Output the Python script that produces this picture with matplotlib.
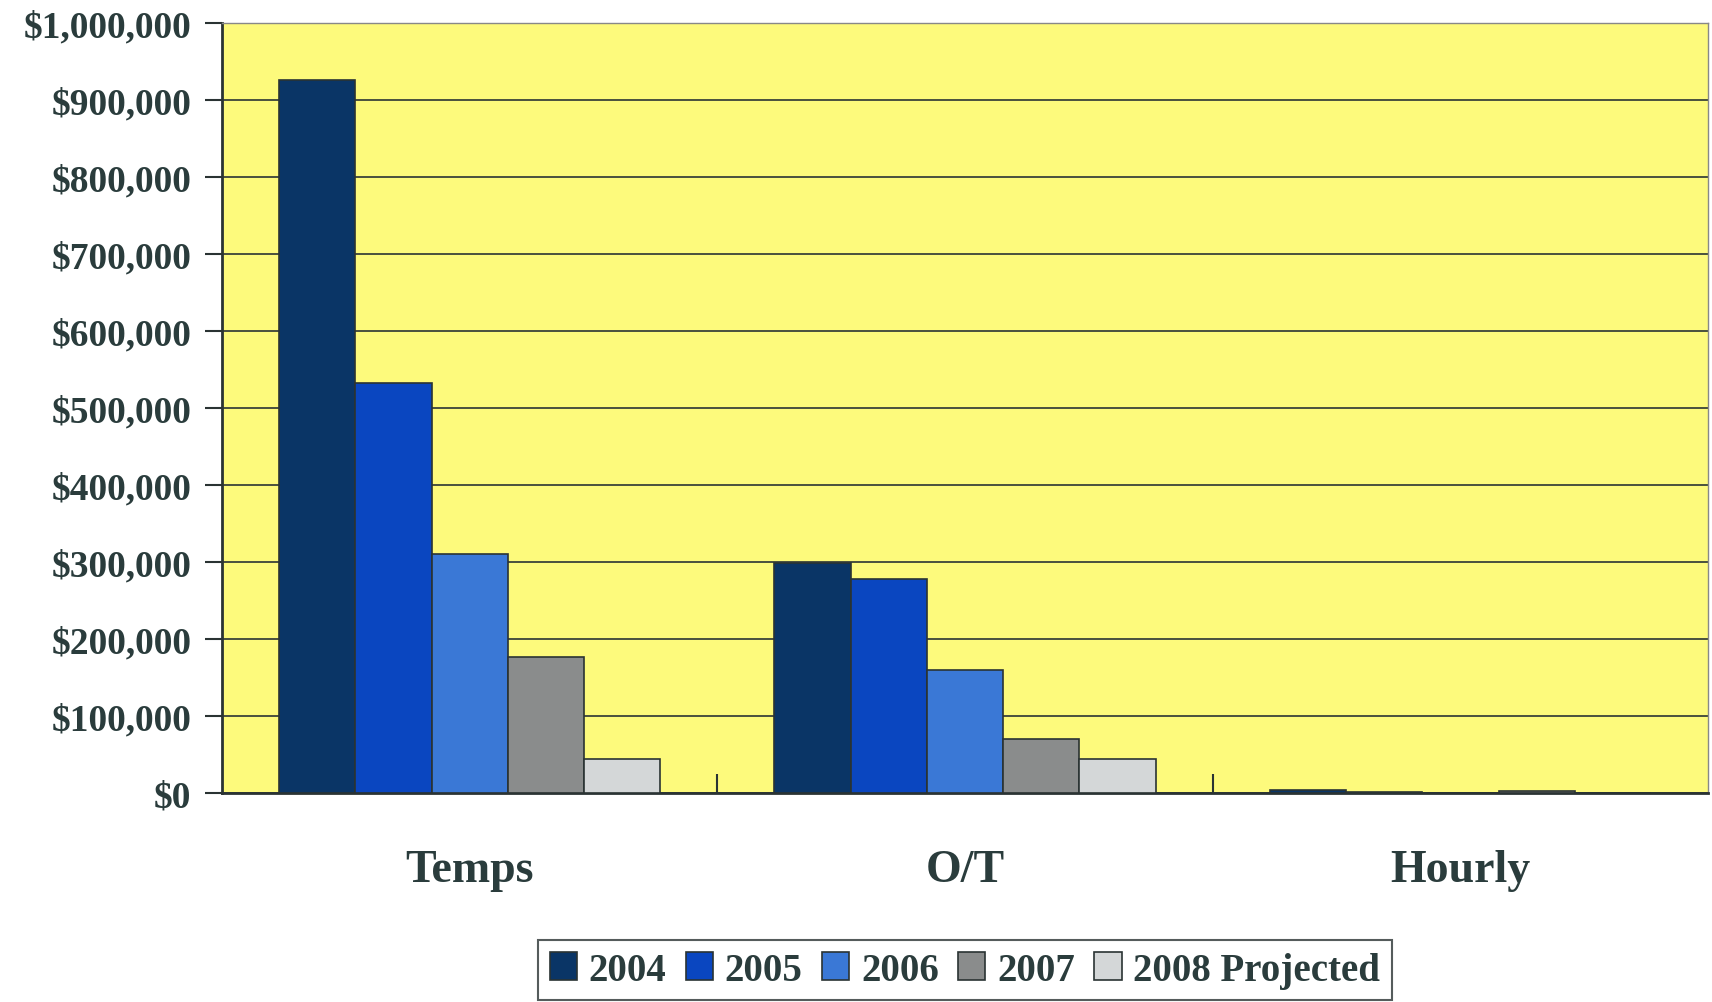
import matplotlib
matplotlib.use("Agg")
import matplotlib.pyplot as plt
import numpy as np
from matplotlib.ticker import FuncFormatter, FixedLocator

categories = ["Temps", "O/T", "Hourly"]
series_names = ["2004", "2005", "2006", "2007", "2008 Projected"]
values_2004 = [926000, 299000, 4000]
values_2005 = [533000, 278000, 1500]
values_2006 = [311000, 160000, 0]
values_2007 = [177000, 71000, 3000]
values_2008 = [45000, 44000, 0]
yticks = [0, 100000, 200000, 300000, 400000, 500000, 600000, 700000, 800000, 900000, 1000000]

series = [values_2004, values_2005, values_2006, values_2007, values_2008]
colors = ["#0a3566", "#0a46c0", "#3a78d6", "#8a8c8c", "#d4d7d8"]
text_color = "#2a3c3c"
plt.rcParams['font.family'] = ['Liberation Serif', 'DejaVu Serif']

fig = plt.figure(figsize=(17.12, 10.03), dpi=100)
ax = fig.add_axes([0.1297, 0.208, 0.868, 0.768])
ax.set_facecolor("#fdfa7c")

x = np.arange(len(categories))
bw = 0.154
n = len(series)
for i, (vals, c, name) in enumerate(zip(series, colors, series_names)):
    offs = (i - (n - 1) / 2) * bw
    ax.bar(x + offs, vals, width=bw, color=c, edgecolor="#2a3333", linewidth=1.2, label=name, zorder=3)

ax.set_xlim(-0.5, len(categories) - 0.5)
ax.set_ylim(0, 1000000)
ax.yaxis.set_major_locator(FixedLocator(yticks))
ax.yaxis.set_major_formatter(FuncFormatter(lambda v, p: "${:,.0f}".format(v)))
ax.grid(axis='y', color="#2a3333", linewidth=1.2, zorder=1)
ax.set_axisbelow(True)

ax.set_xticks(x)
ax.set_xticklabels(categories)
ax.tick_params(axis='x', length=0, pad=40, labelsize=33, labelcolor=text_color)
ax.set_xticks([0.5, 1.5], minor=True)
ax.tick_params(axis='x', which='minor', direction='in', length=14, width=1.5, color="#2a3333")
ax.tick_params(axis='y', direction='out', length=12, width=1.5, color="#2a3333",
               labelsize=27, labelcolor=text_color, pad=10)
for lab in ax.get_xticklabels() + ax.get_yticklabels():
    lab.set_fontweight('bold')

for s in ['left', 'bottom']:
    ax.spines[s].set_color("#2a3333")
    ax.spines[s].set_linewidth(2)
for s in ['top', 'right']:
    ax.spines[s].set_color("#888888")
    ax.spines[s].set_linewidth(1)

leg = ax.legend(loc='upper center', bbox_to_anchor=(0.5, -0.165), ncol=5, frameon=True,
                fancybox=False, edgecolor="#2a3333", prop={'size': 28, 'weight': 'bold'},
                handlelength=0.7, handleheight=0.7, handletextpad=0.3, columnspacing=0.5,
                borderpad=0.3, labelcolor=text_color)
leg.get_frame().set_linewidth(1.5)

fig.savefig("out.png", dpi=100, facecolor="white")
